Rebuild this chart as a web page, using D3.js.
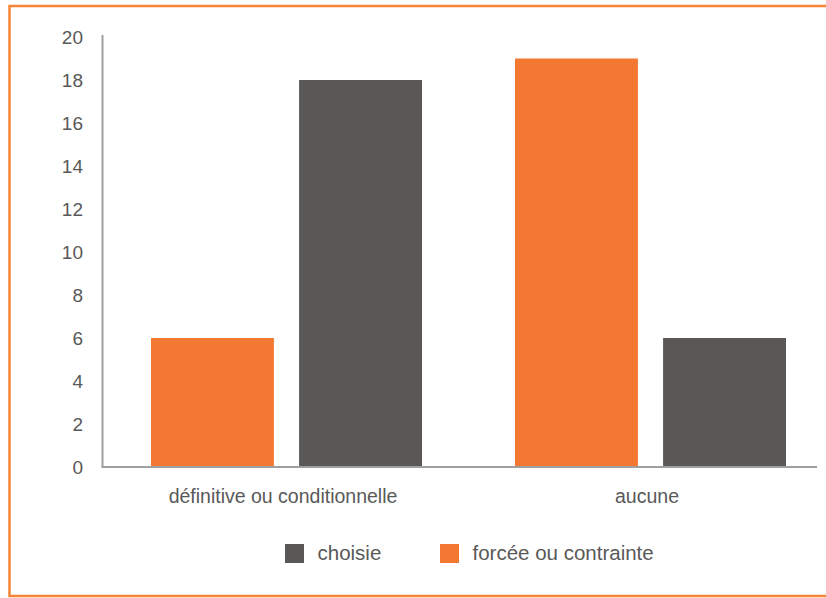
<!DOCTYPE html>
<html>
<head>
<meta charset="utf-8">
<script src="https://cdn.jsdelivr.net/npm/d3@7"></script>
<style>
  body { margin: 0; background: #fff; }
  svg text { font-family: "Liberation Sans", Arial, sans-serif; fill: #595959; }
</style>
</head>
<body>
<div id="chart"></div>
<script>
// data
const categories = ["définitive ou conditionnelle", "aucune"];
const seriesNames = ["forcée ou contrainte", "choisie"];
const forcee = [6, 19];
const choisie = [18, 6];
const yTicks = [0, 2, 4, 6, 8, 10, 12, 14, 16, 18, 20];
const legendOrder = ["choisie", "forcée ou contrainte"];

const colors = { "forcée ou contrainte": "#F37932", "choisie": "#5A5856" };

const width = 826, height = 598;
const svg = d3.select("#chart").append("svg")
  .attr("width", width).attr("height", height);

// orange frame (right side runs off the picture)
svg.append("path")
  .attr("d", "M830,6 H9.5 V596 H830")
  .attr("fill", "none")
  .attr("stroke", "#F58436")
  .attr("stroke-width", 2.5);

const rows = categories.map((c, i) => ({
  cat: c,
  values: [
    { key: seriesNames[0], value: forcee[i] },
    { key: seriesNames[1], value: choisie[i] }
  ]
}));

const y = d3.scaleLinear().domain([0, 20]).range([467, 37]);

const x0 = d3.scaleBand().domain(categories).range([104.5, 832.5]);
const x1 = d3.scaleBand().domain(seriesNames)
  .range([46.5, x0.bandwidth() - 46.5])
  .paddingInner(0.17);

// bars
const groups = svg.append("g").selectAll("g")
  .data(rows).join("g")
  .attr("transform", d => `translate(${x0(d.cat)},0)`);

groups.selectAll("rect")
  .data(d => d.values).join("rect")
  .attr("x", d => x1(d.key))
  .attr("y", d => y(d.value))
  .attr("width", x1.bandwidth())
  .attr("height", d => y(0) - y(d.value))
  .attr("fill", d => colors[d.key]);

// y axis
const yAxis = svg.append("g")
  .attr("transform", "translate(102.5,0)")
  .call(d3.axisLeft(y).tickValues(yTicks).tickSize(0).tickPadding(19.5));
yAxis.select(".domain").attr("stroke", "#A0A0A0").attr("stroke-width", 2)
  .attr("d", `M0,${y(0)}V35`);
yAxis.selectAll("text").style("font-size", "19px").attr("fill", "#595959");

// x axis
const xAxis = svg.append("g")
  .attr("transform", `translate(0,${y(0)})`)
  .call(d3.axisBottom(x0).tickSize(0).tickPadding(22));
xAxis.select(".domain").attr("stroke", "#A0A0A0").attr("stroke-width", 2)
  .attr("d", "M101.5,0H817");
xAxis.selectAll(".tick").attr("transform", d => `translate(${x0(d) + x0.bandwidth() / 2 - 3.5},0)`);
xAxis.selectAll("text").style("font-size", "19.5px").attr("fill", "#595959");

// legend
const legendX = d3.scaleOrdinal().domain(legendOrder).range([285, 440]);
const legend = svg.append("g").selectAll("g")
  .data(legendOrder).join("g")
  .attr("transform", d => `translate(${legendX(d)},544)`);
legend.append("rect")
  .attr("width", 19).attr("height", 19)
  .attr("fill", d => colors[d]);
legend.append("text")
  .attr("x", 32.5).attr("y", 15.5)
  .style("font-size", "20.5px")
  .text(d => d);
</script>
</body>
</html>
